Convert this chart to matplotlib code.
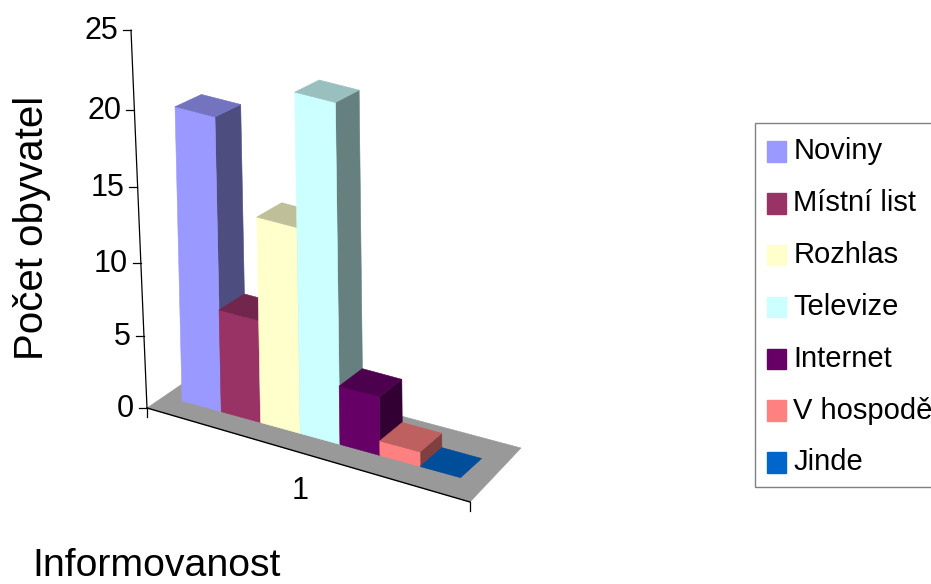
import numpy as np
import matplotlib
matplotlib.use("Agg")
import matplotlib.pyplot as plt
from matplotlib.patches import Patch, Rectangle
from matplotlib.legend_handler import HandlerPatch

plt.rcParams['font.family'] = ['Liberation Sans', 'DejaVu Sans']

series_names = ["Noviny", "Místní list", "Rozhlas", "Televize", "Internet", "V hospodě", "Jinde"]
series_values = [20, 7, 14, 23, 4, 1, 0]
front_colors = ["#9999FF", "#993366", "#FFFFCC", "#CCFFFF", "#660066", "#FF8080", "#0066CC"]
y_ticks = [0, 5, 10, 15, 20, 25]
category_label = "1"
y_title = "Počet obyvatel"
x_title = "Informovanost"

# Camera calibration: (series slot, depth, value) -> figure pixel
calib = [
    (0,0,0,184,402),(1,0,0,220,412),(2,0,0,258,422),(3,0,0,297,432),(4,0,0,338,443),
    (5,0,0,379,455),(6,0,0,420,466),(7,0,0,463,479),(6,1,0,442,448),(7,1,0,485,458),
    (0,0,20,174,105),(1,0,20,213,113),(1,1,20,239,100),(0,1,20,202,94),
    (1,0,7,218,311),(1,1,7,243,295),(2,0,14,254,214),(2,1,14,281,202),
    (3,0,23,295,94),(4,0,23,338,100),(4,1,23,362,90),(3,1,23,319,82),
    (4,0,4,338,386),(5,0,4,380,396),(5,1,4,400,378),(4,1,4,360,368),
    (5,0,1,379,441),(6,0,1,420,452),(6,1,1,442,433),(5,1,1,402,423),
]
# corners where the first fit strayed most get counted several times
calib = calib + [(0,0,0,184,402)] * 5 + [(0,1,20,202,94)] * 3 + [(3,1,23,319,82)] * 3 + [(3,0,23,295,94)] * 3
floor_px = [(147, 408), (470, 502), (521, 448), (210, 365)]
axis_top_px = [(131, 30), (135, 109), (137, 188), (140, 263)]
axis_top_vals = [25, 20, 15, 10]


def fit_camera(rows):
    A, b = [], []
    for X, Y, Z, u, v in rows:
        A.append([X, Y, Z, 1, 0, 0, 0, 0, -u*X, -u*Y, -u*Z]); b.append(u)
        A.append([0, 0, 0, 0, X, Y, Z, 1, -v*X, -v*Y, -v*Z]); b.append(v)
    sol = np.linalg.lstsq(np.array(A, float), np.array(b, float), rcond=None)[0]
    return np.append(sol, 1.0).reshape(3, 4)


def unproject_floor(P, u, v):
    H = P[:, [0, 1, 3]]
    q = np.linalg.solve(H, [u, v, 1.0])
    return q[0] / q[2], q[1] / q[2]


P = fit_camera(calib)
xw, dw = unproject_floor(P, *floor_px[0])
P_axis = fit_camera(list(calib) + [(xw, dw, 0, *floor_px[0])] * 20 + [
    (xw, dw, z, *p) for z, p in zip(axis_top_vals, axis_top_px) for _ in range(20)])


def pr(x, d, z, cam=None):
    q = (P if cam is None else cam) @ np.array([x, d, z, 1.0])
    return q[0] / q[2], q[1] / q[2]


def shade(color, k):
    r, g, b = matplotlib.colors.to_rgb(color)
    return (r * k, g * k, b * k)


fig = plt.figure(figsize=(9.31, 5.84), dpi=100)
ax = fig.add_axes([0, 0, 1, 1])
ax.set_xlim(0, 931)
ax.set_ylim(584, 0)
ax.axis("off")


def face(pts, color, zo):
    xs, ys = zip(*pts)
    ax.fill(xs, ys, facecolor=color, edgecolor=color, linewidth=0.4, zorder=zo)


# floor
fc = [unproject_floor(P, *p) for p in floor_px]
face([pr(x, d, 0) for x, d in fc], "#999999", 1)

# axis lines and ticks
x0, y0 = pr(xw, dw, 0)
xt, yt = pr(xw, dw, 25, P_axis)
ax.plot([x0, xt], [y0, yt], color="black", lw=0.9, zorder=2)
for z in y_ticks:
    tx, ty = pr(xw, dw, z, P_axis)
    ax.plot([tx - 8, tx], [ty, ty], color="black", lw=0.9, zorder=2)
    ax.text(tx - 13, ty + 1, str(z), ha="right", va="center", fontsize=22, color="black")
xr, dr = fc[1]
rx, ry = pr(xr, dr, 0)
ax.plot([x0, rx], [y0, ry], color="black", lw=1.0, zorder=2)
ax.plot([x0, x0], [y0, y0 + 9], color="black", lw=0.9, zorder=2)
ax.plot([rx, rx], [ry, ry + 9], color="black", lw=0.9, zorder=2)
ax.text((x0 + rx) / 2 - 8, 491, category_label, ha="center", va="center", fontsize=22)

# bars, left to right so later ones overlap earlier ones
for i, (val, col) in enumerate(zip(series_values, front_colors)):
    zo = 3 + i
    if val > 0:
        face([pr(i + 1, 0, 0), pr(i + 1, 1, 0), pr(i + 1, 1, val), pr(i + 1, 0, val)], shade(col, 0.5), zo)
        face([pr(i, 0, 0), pr(i + 1, 0, 0), pr(i + 1, 0, val), pr(i, 0, val)], col, zo)
    face([pr(i, 0, val), pr(i + 1, 0, val), pr(i + 1, 1, val), pr(i, 1, val)], shade(col, 0.75), zo)

ax.text(32, 228, y_title, rotation=90, ha="center", va="center", fontsize=29)
ax.text(156.5, 566, x_title, ha="center", va="center", fontsize=28.3)


def low_swatch(legend=None, orig_handle=None, xdescent=0, ydescent=0, width=0, height=0, fontsize=0):
    return Rectangle((-xdescent, -ydescent - 1.8), width, height)


handles = [Patch(facecolor=c, edgecolor=c, label=n) for n, c in zip(series_names, front_colors)]
ax.add_patch(Rectangle((755, 123), 230, 364, facecolor="white", edgecolor="#808080",
                       linewidth=1.0, zorder=19, clip_on=True))
leg = ax.legend(handles=handles, loc="upper left", bbox_to_anchor=(755, 125),
                bbox_transform=ax.transData, fontsize=21, frameon=False,
                borderaxespad=0, borderpad=0.41,
                handlelength=0.66, handleheight=0.72, handletextpad=0.24, labelspacing=0.82,
                handler_map={Patch: HandlerPatch(patch_func=low_swatch)})
leg.set_zorder(20)

fig.savefig("out.png", dpi=100)
